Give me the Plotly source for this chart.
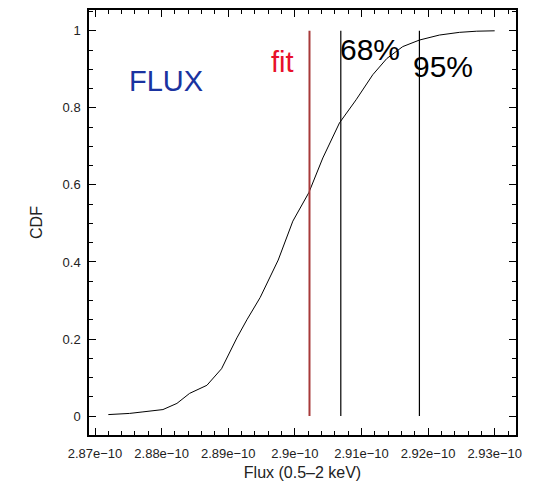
import numpy as np
import plotly.graph_objects as go

# Cumulative distribution of simulated flux values (units of 1e-10)
flux_e10 = [2.8720, 2.8752, 2.8772, 2.8802, 2.8823, 2.8842, 2.8868, 2.8890,
            2.8913, 2.8928, 2.8948, 2.8962, 2.8975, 2.8997, 2.9021, 2.9042,
            2.9067, 2.9092, 2.9117, 2.9138, 2.9162, 2.9187, 2.9217, 2.9247,
            2.9273, 2.9300]
cdf = [0.004, 0.007, 0.011, 0.017, 0.033, 0.059, 0.080, 0.123,
       0.203, 0.250, 0.308, 0.359, 0.405, 0.506, 0.580, 0.670,
       0.761, 0.821, 0.886, 0.928, 0.959, 0.976, 0.989, 0.996,
       0.999, 1.000]

# Best fit and confidence bounds (units of 1e-10)
fit_e10 = 2.9022
conf68_e10 = 2.9069
conf95_e10 = 2.9187

xtick_vals_e10 = [2.87, 2.88, 2.89, 2.90, 2.91, 2.92, 2.93]
xtick_text = ["2.87e\u221210", "2.88e\u221210", "2.89e\u221210", "2.9e\u221210",
              "2.91e\u221210", "2.92e\u221210", "2.93e\u221210"]
ytick_vals = [0, 0.2, 0.4, 0.6, 0.8, 1]
ytick_text = ["0", "0.2", "0.4", "0.6", "0.8", "1"]

E = 1e-10
flux = np.array(flux_e10) * E

fig = go.Figure()

fig.add_trace(go.Scatter(x=flux, y=cdf, mode="lines",
                         line=dict(color="black", width=1), hoverinfo="skip"))

for xv, col, w in [(fit_e10, "#a83a3a", 2), (conf68_e10, "black", 1.2),
                   (conf95_e10, "black", 1.2)]:
    fig.add_trace(go.Scatter(x=[xv * E, xv * E], y=[0, 1], mode="lines",
                             line=dict(color=col, width=w), hoverinfo="skip"))

font_main = "Liberation Sans, Arial, sans-serif"
annots = [
    ("FLUX", 2.8806, 0.871, "#1a33a0", 29),
    ("fit", 2.8981, 0.918, "#e8102a", 29),
    ("68%", 2.9113, 0.952, "black", 30),
    ("95%", 2.9222, 0.908, "black", 30),
]
for txt, xv, yv, col, sz in annots:
    fig.add_annotation(x=xv * E, y=yv, xref="x", yref="y", text=txt,
                       showarrow=False, xanchor="center", yanchor="middle",
                       font=dict(family=font_main, size=sz, color=col))

axis_common = dict(
    showgrid=False, zeroline=False, showline=True, linecolor="black",
    linewidth=1.5, mirror="ticks", ticks="inside", ticklen=7,
    tickcolor="black", tickwidth=1,
    tickfont=dict(family=font_main, size=13, color="#222"),
)

fig.update_xaxes(
    range=[2.8691 * E, 2.9332 * E],
    tickmode="array", tickvals=[v * E for v in xtick_vals_e10], ticktext=xtick_text,
    minor=dict(dtick=0.002 * E, tick0=2.87 * E, ticks="inside", ticklen=4,
               tickcolor="black"),
    ticklabelstandoff=6,
    title=dict(text="Flux (0.5\u20132 keV)", standoff=6,
               font=dict(family=font_main, size=16, color="#222")),
    **axis_common,
)
fig.update_yaxes(
    range=[-0.049, 1.054],
    tickmode="array", tickvals=ytick_vals, ticktext=ytick_text,
    minor=dict(dtick=0.05, tick0=0, ticks="inside", ticklen=4, tickcolor="black"),
    ticklabelstandoff=4,
    title=dict(text="CDF", standoff=16,
               font=dict(family=font_main, size=16, color="#222")),
    **axis_common,
)

fig.update_layout(
    width=538, height=498,
    margin=dict(l=89, r=22, t=8, b=63),
    plot_bgcolor="white", paper_bgcolor="white",
    showlegend=False,
)

fig.write_html("out.html")
